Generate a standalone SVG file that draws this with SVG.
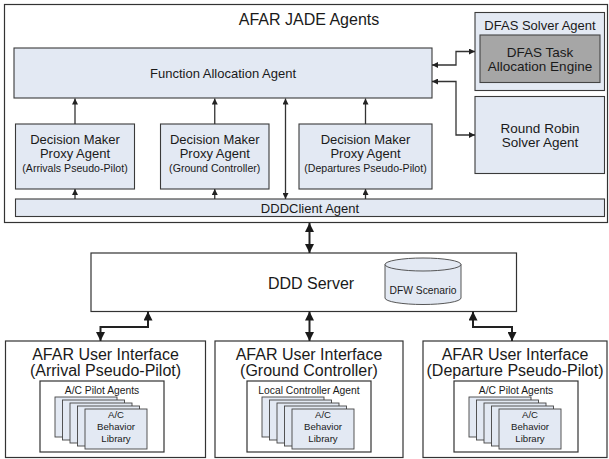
<svg xmlns="http://www.w3.org/2000/svg" width="609" height="459" viewBox="0 0 609 459">
  <defs>
    <style>
      text { font-family: "Liberation Sans", Arial, sans-serif; fill: #1a1a1a; text-anchor: middle; }
      .box { fill: #e3e9f3; stroke: #3a3a3a; stroke-width: 1.1; }
      .plain { fill: #ffffff; stroke: #333333; stroke-width: 1.2; }
      .engine { fill: #a6a6a6; stroke: #444444; stroke-width: 1.1; }
      .card { fill: #e3e9f3; stroke: #444444; stroke-width: 0.9; }
      .t16 { font-size: 16px; }
      .t13 { font-size: 13px; }
      .t135 { font-size: 13.5px; }
      .t11 { font-size: 10.6px; }
      .t10 { font-size: 10.3px; }
      .t9 { font-size: 9.6px; }
      .thin { fill: none; stroke: #333333; stroke-width: 1.3; }
      .thick { fill: none; stroke: #222222; stroke-width: 2; }
    </style>
    <marker id="ah" viewBox="0 0 10 10" refX="10" refY="5" markerWidth="7" markerHeight="6" markerUnits="userSpaceOnUse" orient="auto-start-reverse">
      <path d="M0,0 L10,5 L0,10 z" fill="#222222"/>
    </marker>
    <marker id="ahb" viewBox="0 0 10 10" refX="10" refY="5" markerWidth="10" markerHeight="9" markerUnits="userSpaceOnUse" orient="auto-start-reverse">
      <path d="M0,0 L10,5 L0,10 z" fill="#1a1a1a"/>
    </marker>
    <!-- stack of agent cards, back to front -->
    <g id="stack">
      <rect class="card" x="0" y="0" width="62" height="40"/>
      <rect class="card" x="7.5" y="3" width="62" height="40"/>
      <rect class="card" x="15" y="6" width="62" height="40"/>
      <rect class="card" x="22.5" y="9" width="62" height="40"/>
      <rect class="card" x="30" y="12" width="62" height="40"/>
      <text class="t9" x="61" y="21">A/C</text>
      <text class="t9" x="61" y="33">Behavior</text>
      <text class="t9" x="61" y="45">Library</text>
    </g>
  </defs>

  <!-- JADE agent container -->
  <g id="jade">
    <rect class="plain" x="4.5" y="4.5" width="603" height="218"/>
    <text class="t16" x="309" y="25">AFAR JADE Agents</text>
  </g>

  <g id="function-allocation">
    <rect class="box" x="14" y="48" width="418" height="50"/>
    <text class="t13" x="223" y="78">Function Allocation Agent</text>
  </g>

  <g id="dfas-solver">
    <rect class="box" x="475" y="12.5" width="129.5" height="78"/>
    <text class="t13" x="540" y="30">DFAS Solver Agent</text>
    <rect class="engine" x="480" y="35" width="120" height="47.5"/>
    <text class="t135" x="540" y="57">DFAS Task</text>
    <text class="t135" x="540" y="71">Allocation Engine</text>
  </g>

  <g id="round-robin">
    <rect class="box" x="475" y="96.5" width="129.5" height="77"/>
    <text class="t135" x="540" y="132.5">Round Robin</text>
    <text class="t135" x="540" y="146.5">Solver Agent</text>
  </g>

  <g id="dm-arrivals">
    <rect class="box" x="15.5" y="124" width="119" height="65"/>
    <text class="t13" x="75" y="143.5">Decision Maker</text>
    <text class="t13" x="75" y="158">Proxy Agent</text>
    <text class="t11" x="75" y="171.5">(Arrivals Pseudo-Pilot)</text>
  </g>

  <g id="dm-ground">
    <rect class="box" x="160.5" y="124" width="108.5" height="65"/>
    <text class="t13" x="214.75" y="143.5">Decision Maker</text>
    <text class="t13" x="214.75" y="158">Proxy Agent</text>
    <text class="t11" x="214.75" y="171.5">(Ground Controller)</text>
  </g>

  <g id="dm-departures">
    <rect class="box" x="299" y="124" width="133" height="65"/>
    <text class="t13" x="365.5" y="143.5">Decision Maker</text>
    <text class="t13" x="365.5" y="158">Proxy Agent</text>
    <text class="t11" x="365.5" y="171.5">(Departures Pseudo-Pilot)</text>
  </g>

  <g id="dddclient">
    <rect class="box" x="15.5" y="199" width="589" height="17.5"/>
    <text class="t13" x="310" y="212.5">DDDClient Agent</text>
  </g>

  <g id="ddd-server">
    <rect class="plain" x="91" y="253" width="425.5" height="58.5"/>
    <text class="t16" x="311" y="289">DDD Server</text>
    <path class="card" d="M385,264.5 A38,6.5 0 0 1 461,264.5 L461,298 A38,6.5 0 0 1 385,298 Z"/>
    <path fill="none" stroke="#444444" stroke-width="0.9" d="M385,264.5 A38,6.5 0 0 0 461,264.5"/>
    <text class="t10" x="423" y="294">DFW Scenario</text>
  </g>

  <g id="ui-arrival">
    <rect class="plain" x="5.5" y="341" width="200" height="116.5"/>
    <text class="t16" x="105.5" y="359.5">AFAR User Interface</text>
    <text class="t16" x="105.5" y="375.5">(Arrival Pseudo-Pilot)</text>
    <rect class="plain" x="40" y="381" width="124" height="71"/>
    <text class="t10" x="102" y="393.5">A/C Pilot Agents</text>
    <use href="#stack" x="55" y="397"/>
  </g>

  <g id="ui-ground">
    <rect class="plain" x="215" y="341" width="188" height="116.5"/>
    <text class="t16" x="309" y="359.5">AFAR User Interface</text>
    <text class="t16" x="309" y="375.5">(Ground Controller)</text>
    <rect class="plain" x="247" y="381" width="124" height="71"/>
    <text class="t10" x="309" y="393.5">Local Controller Agent</text>
    <use href="#stack" x="262" y="397"/>
  </g>

  <g id="ui-departure">
    <rect class="plain" x="423" y="341" width="184" height="116.5"/>
    <text class="t16" x="515" y="359.5">AFAR User Interface</text>
    <text class="t16" x="515" y="375.5">(Departure Pseudo-Pilot)</text>
    <rect class="plain" x="454" y="381" width="124" height="71"/>
    <text class="t10" x="516" y="393.5">A/C Pilot Agents</text>
    <use href="#stack" x="469" y="397"/>
  </g>

  <g id="connectors">
    <!-- proxy agents up to function allocation -->
    <path class="thin" d="M75,124 V98.5" marker-end="url(#ah)"/>
    <path class="thin" d="M214.75,124 V98.5" marker-end="url(#ah)"/>
    <path class="thin" d="M365.5,124 V98.5" marker-end="url(#ah)"/>
    <!-- client bar up to proxy agents -->
    <path class="thin" d="M75,199 V189" marker-end="url(#ah)"/>
    <path class="thin" d="M214.75,199 V189" marker-end="url(#ah)"/>
    <path class="thin" d="M365.5,199 V189" marker-end="url(#ah)"/>
    <!-- function allocation to client bar -->
    <path class="thin" d="M285.5,98.5 V199" marker-start="url(#ah)" marker-end="url(#ah)"/>
    <!-- function allocation to solvers -->
    <path class="thin" d="M432,65 H456 V51.5 H475" marker-start="url(#ah)" marker-end="url(#ah)"/>
    <path class="thin" d="M432,81.5 H456 V135 H475" marker-start="url(#ah)" marker-end="url(#ah)"/>
    <!-- container to server -->
    <path class="thick" d="M309.5,223 V253" marker-start="url(#ahb)" marker-end="url(#ahb)"/>
    <!-- server to user interfaces -->
    <path class="thick" d="M148,311.5 V327 H100.5 V341" marker-start="url(#ahb)" marker-end="url(#ahb)"/>
    <path class="thick" d="M309.5,311.5 V341" marker-start="url(#ahb)" marker-end="url(#ahb)"/>
    <path class="thick" d="M473,311.5 V327 H512 V341" marker-start="url(#ahb)" marker-end="url(#ahb)"/>
  </g>
</svg>
